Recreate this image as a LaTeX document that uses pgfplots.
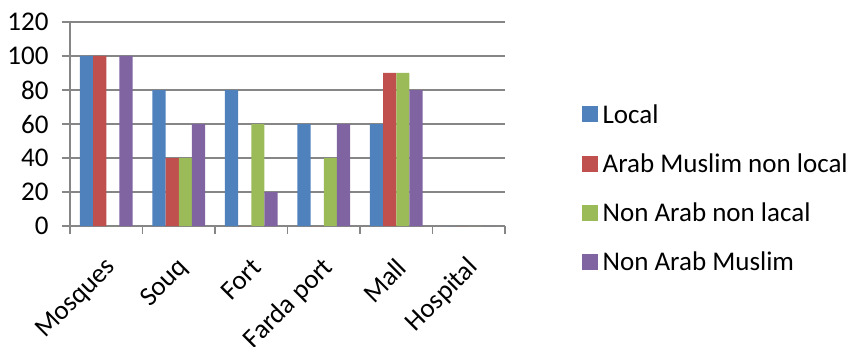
\documentclass[border=0pt]{standalone}
\usepackage{pgfplots}
\pgfplotsset{compat=1.18}
\usepackage{fontspec}
\setmainfont{Carlito}

\definecolor{cLocal}{HTML}{4F81BD}
\definecolor{cArab}{HTML}{C0504D}
\definecolor{cNonArab}{HTML}{9BBB59}
\definecolor{cNAMuslim}{HTML}{8064A2}
\definecolor{axisgray}{HTML}{868686}

\begin{document}
\begin{tikzpicture}
\begin{axis}[
  name=ax,
  scale only axis,
  width=435bp, height=204bp,
  ybar=0pt, bar width=13.2bp,
  xmin=-0.5, xmax=5.5,
  ymin=0, ymax=120,
  ytick={0,20,...,120},
  xtick={0,...,5},
  xticklabels={Mosques,Souq,Fort,Farda port,Mall,Hospital},
  minor xtick={-0.5,0.5,...,5.5},
  major x tick style={draw=none},
  axis x line*=bottom, axis y line*=left,
  axis line style={axisgray, line width=1.4bp, -},
  tick style={axisgray, line width=1.4bp},
  tick align=outside,
  major tick length=8bp, minor tick length=8bp,
  ymajorgrids,
  grid style={axisgray, line width=1.4bp},
  /pgf/number format/assume math mode=true,
  tick label style={font=\fontsize{27bp}{31bp}\selectfont, black},
  x tick label style={xshift=8bp, yshift=-27bp, rotate=45, anchor=east},
  y tick label style={xshift=-10bp},
  legend style={draw=none, at={(1.17,0.185)}, anchor=west,
    font=\fontsize{27bp}{31bp}\selectfont, row sep=20bp,
    nodes={inner sep=4.5bp}},
  legend cell align=left,
  legend image code/.code={\fill[#1] (0bp,-8bp) rectangle (16bp,8bp);},
  clip=false,
]
% Local
\addplot[fill=cLocal, draw=none] coordinates {(0,100) (1,80) (2,80) (3,60) (4,60) (5,0)};
% Arab Muslim non local
\addplot[fill=cArab, draw=none] coordinates {(0,100) (1,40) (2,0) (3,0) (4,90) (5,0)};
% Non Arab non local
\addplot[fill=cNonArab, draw=none] coordinates {(0,0) (1,40) (2,60) (3,40) (4,90) (5,0)};
% Non Arab Muslim
\addplot[fill=cNAMuslim, draw=none] coordinates {(0,100) (1,60) (2,20) (3,60) (4,80) (5,0)};
\legend{Local, Arab Muslim non local, Non Arab non lacal, Non Arab Muslim}
\end{axis}
\pgfresetboundingbox
\useasboundingbox ([shift={(-70bp,-120bp)}]ax.south west) rectangle ([shift={(344bp,22bp)}]ax.north east);
\end{tikzpicture}
\end{document}
